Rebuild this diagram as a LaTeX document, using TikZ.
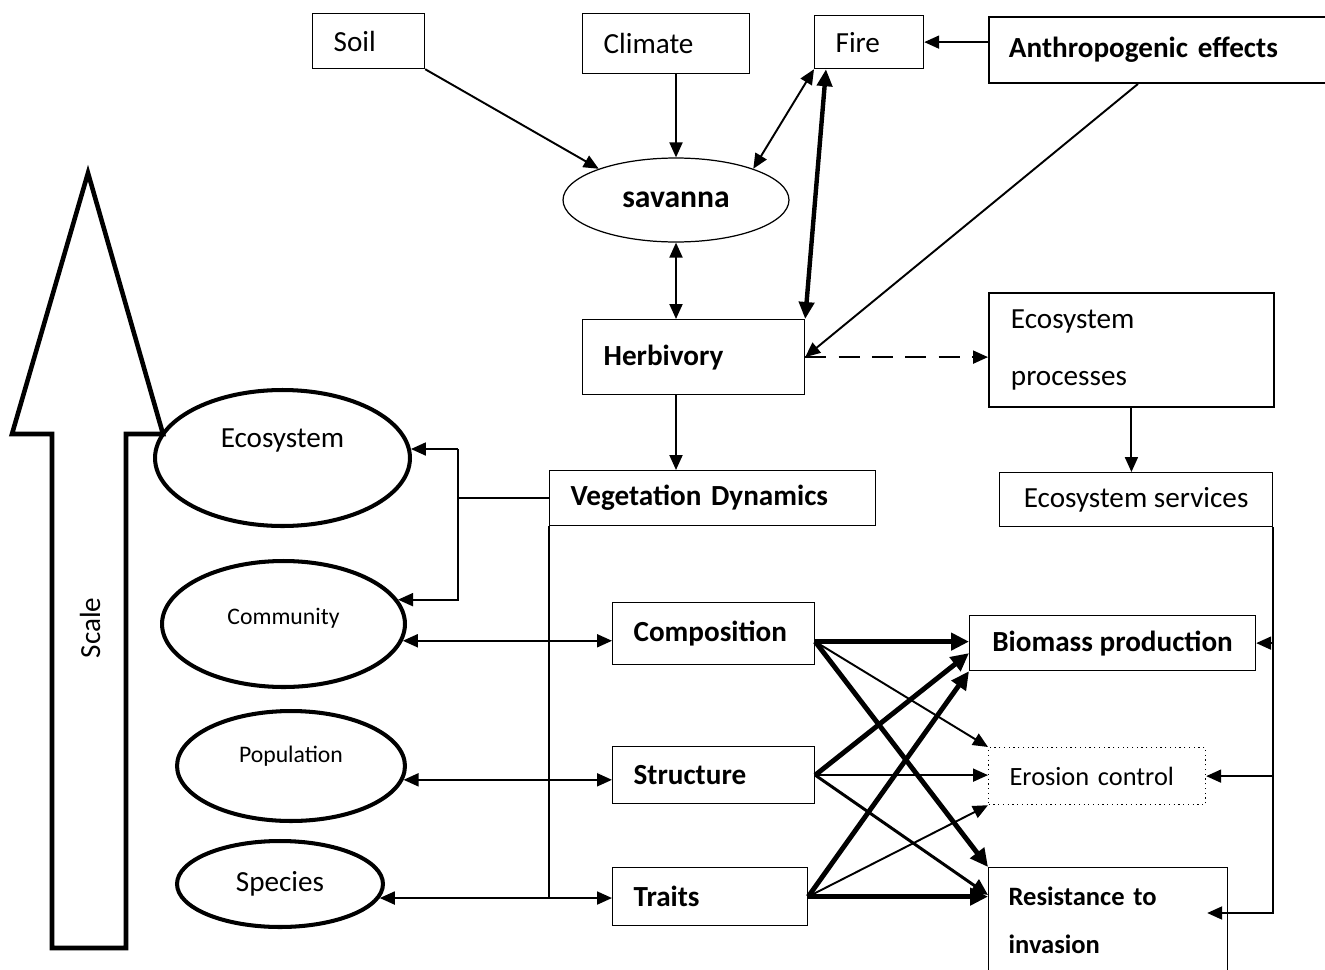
\documentclass[tikz,border=0pt]{standalone}
\usepackage{fontspec}
\setmainfont{Carlito}
\usepackage{tikz}
\usetikzlibrary{shapes.geometric,arrows.meta}

\begin{document}
\begin{tikzpicture}[x=0.02cm,y=-0.02cm,font=\fontsize{16.6}{20}\selectfont,
    box/.style={draw,line width=0.7pt,anchor=north west,inner xsep=0.42cm,inner ysep=0pt,align=left},
    lvl/.style={draw,ellipse,line width=2.3pt,inner sep=0pt},
    small/.style={font=\fontsize{13.5}{16}\selectfont},
    arr/.style={line width=1.1pt,-{Triangle[length=0.3cm,width=0.26cm]}},
    darr/.style={line width=1.1pt,{Triangle[length=0.3cm,width=0.26cm]}-{Triangle[length=0.3cm,width=0.26cm]}},
    mid/.style={line width=1.7pt,-{Triangle[length=0.33cm,width=0.3cm]}},
    fat/.style={line width=2.8pt,-{Triangle[length=0.36cm,width=0.34cm]}},
    fatd/.style={line width=2.5pt,{Triangle[length=0.34cm,width=0.3cm]}-{Triangle[length=0.34cm,width=0.3cm]}}]
\useasboundingbox (0,0) rectangle (1325,970);

\node[box,text width=1.40cm,minimum height=1.10cm] (soil) at (312,13) {Soil};
\node[box,text width=2.50cm,minimum height=1.20cm] (climate) at (582,13) {Climate};
\node[box,text width=1.34cm,minimum height=1.06cm] (fire) at (814,15) {Fire};
\node[box,line width=1.1pt,inner xsep=0.4cm,text width=6.2cm,minimum height=1.32cm,font=\fontsize{16.6}{20}\selectfont\bfseries] (anthro) at (988,16) {Anthropogenic effects};
\node[draw,ellipse,line width=0.7pt,minimum width=4.52cm,minimum height=1.68cm,inner sep=0pt,font=\fontsize{18}{22}\selectfont\bfseries] (sav) at (676,200) {savanna};
\node[box,text width=3.60cm,minimum height=1.50cm,font=\fontsize{16.6}{20}\selectfont\bfseries] (herb) at (582,319) {Herbivory};
\node[box,line width=1.1pt,inner xsep=0.44cm,text width=4.82cm,minimum height=2.28cm] (ecoproc) at (988,292) {Ecosystem\\[0.45cm]processes};
\node[box,align=center,minimum width=5.46cm,minimum height=1.08cm] (ecoserv) at (999,472) {Ecosystem services};
\node[box,text width=5.68cm,minimum height=1.10cm,font=\fontsize{16.6}{20}\selectfont\bfseries] (vegdyn) at (549,470) {Vegetation Dynamics};
\node[box,text width=3.20cm,minimum height=1.24cm,font=\fontsize{16.6}{20}\selectfont\bfseries] (comp) at (612,602) {Composition};
\node[box,text width=3.20cm,minimum height=1.14cm,font=\fontsize{16.6}{20}\selectfont\bfseries] (struct) at (612,746) {Structure};
\node[box,text width=3.06cm,minimum height=1.16cm,font=\fontsize{16.6}{20}\selectfont\bfseries] (traits) at (612,867) {Traits};
\node[box,align=center,minimum width=5.72cm,minimum height=1.10cm,font=\fontsize{16.6}{20}\selectfont\bfseries] (biomass) at (969,615) {Biomass production};
\node[box,dotted,text width=3.50cm,minimum height=1.14cm,font=\fontsize{15}{18}\selectfont] (erosion) at (988,747) {Erosion control};
\node[box,inner xsep=0.4cm,text width=3.98cm,minimum height=2.12cm,font=\fontsize{15.1}{18}\selectfont\bfseries] (resist) at (988,867) {Resistance to\\[0.33cm]invasion};

\node[lvl,minimum width=5.10cm,minimum height=2.72cm,label={[yshift=0.36cm]center:Ecosystem}] (ecosys) at (282.5,458) {};
\node[lvl,minimum width=4.86cm,minimum height=2.52cm,label={[yshift=0.12cm,small]center:Community}] (comm) at (283.5,624) {};
\node[lvl,minimum width=4.56cm,minimum height=2.20cm,label={[yshift=0.2cm,small]center:Population}] (pop) at (291,766) {};
\node[lvl,minimum width=4.12cm,minimum height=1.72cm,label={center:Species}] (spec) at (280,884) {};

\draw[line width=2.6pt] (52,948) -- (52,434) -- (12,434) -- (88,173) -- (163,434) -- (126,434) -- (126,948) -- cycle;
\node[rotate=90] (scale) at (90,628) {Scale};

\coordinate (lbus) at (458,0);
\coordinate (rtip) at ([xshift=-0.42cm,yshift=-0.92cm]resist.north east);

\draw[arr] (soil.south east) -- (sav.158);
\draw[arr] (sav.north |- climate.south) -- (sav.north);
\draw[darr] (sav.22) -- (fire.south west);
\draw[fatd] (herb.north east) -- ([xshift=0.24cm]fire.south west);
\draw[arr] (anthro.west |- fire.east) -- (fire.east);
\draw[arr] ([xshift=3cm]anthro.south west) -- (herb.east);
\draw[darr] (sav.south) -- (sav.south |- herb.north);
\draw[arr,dash pattern=on 12pt off 7pt] (herb.east) -- (herb.east -| ecoproc.west);
\draw[arr] (sav.south |- herb.south) -- (sav.south |- vegdyn.north);
\draw[arr] (ecoproc.south) -- (ecoproc.south |- ecoserv.north);

\draw[line width=1.1pt] (vegdyn.west) -- (vegdyn.west -| lbus);
\draw[arr] (ecosys.4 -| lbus) -- (ecosys.4);
\draw[arr] (ecosys.4 -| lbus) |- (comm.12);
\draw[line width=1.1pt] (vegdyn.south west) -- (vegdyn.south west |- spec.-8);
\draw[darr] (comm.-8) -- (comm.-8 -| comp.west);
\draw[darr] (pop.-7) -- (pop.-7 -| struct.west);
\draw[darr] (spec.-8) -- (spec.-8 -| traits.west);

\draw[arr] (ecoserv.south east) |- (rtip);
\draw[arr] (biomass.east -| ecoserv.east) -- (biomass.east);
\draw[arr] (erosion.east -| ecoserv.east) -- (erosion.east);

\draw[fat] ([yshift=-0.16cm]comp.east) -- ([yshift=-0.16cm]comp.east -| biomass.west);
\draw[arr] ([yshift=-0.16cm]comp.east) -- (erosion.north west);
\draw[fat] ([yshift=-0.16cm]comp.east) -- (resist.north west);
\draw[fat] (struct.east) -- ([yshift=-0.2cm]biomass.west);
\draw[arr] (struct.east) -- (struct.east -| erosion.west);
\draw[mid] (struct.east) -- ([yshift=-0.56cm]resist.north west);
\draw[fat] (traits.east) -- (biomass.south west);
\draw[arr] (traits.east) -- (erosion.south west);
\draw[fat] (traits.east) -- (traits.east -| resist.west);
\end{tikzpicture}
\end{document}
